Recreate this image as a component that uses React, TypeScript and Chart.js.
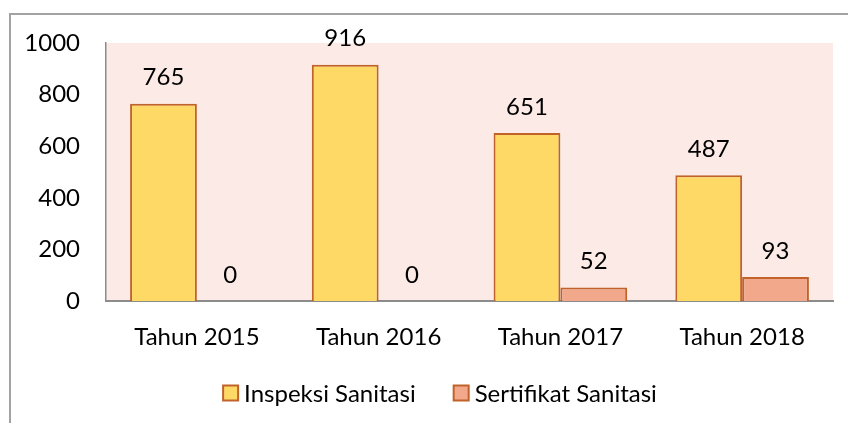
import React, { useEffect, useRef } from "react";
import { Chart, registerables } from "chart.js";

Chart.register(...registerables);

const categories = ["Tahun 2015", "Tahun 2016", "Tahun 2017", "Tahun 2018"];
const inspeksi = [765, 916, 651, 487];
const sertifikat = [0, 0, 52, 93];
const seriesNames = ["Inspeksi Sanitasi", "Sertifikat Sanitasi"];
const yTicks = [0, 200, 400, 600, 800, 1000];

const FONT = "Lato, 'Noto Sans', sans-serif";
const FS = 24;
const BORDER = "#C0622A";
const FILLS = ["#FFD966", "#F2A88B"];

const framePlugin = {
  id: "frame",
  beforeDraw(chart: any) {
    const { ctx, chartArea } = chart;
    ctx.save();
    ctx.fillStyle = "#ffffff";
    ctx.fillRect(0, 0, chart.width, chart.height);
    ctx.fillStyle = "#FBEAE6";
    ctx.fillRect(chartArea.left, chartArea.top, chartArea.right - chartArea.left, chartArea.bottom - chartArea.top);
    ctx.strokeStyle = "#A3A3A3";
    ctx.lineWidth = 2;
    ctx.beginPath();
    ctx.moveTo(10, chart.height);
    ctx.lineTo(10, 14);
    ctx.lineTo(chart.width, 14);
    ctx.stroke();
    ctx.restore();
  },
};

const labelPlugin = {
  id: "valueLabels",
  afterDatasetsDraw(chart: any) {
    const { ctx } = chart;
    ctx.save();
    ctx.font = `${FS}px ${FONT}`;
    ctx.fillStyle = "#000000";
    ctx.textAlign = "center";
    ctx.textBaseline = "middle";
    chart.data.datasets.forEach((ds: any, i: number) => {
      const meta = chart.getDatasetMeta(i);
      meta.data.forEach((el: any, j: number) => {
        ctx.fillText(String(ds.data[j]), el.x, el.y - 26);
      });
    });
    ctx.restore();
  },
};

const legendPlugin = {
  id: "customLegend",
  afterDraw(chart: any) {
    const { ctx } = chart;
    ctx.save();
    ctx.font = `${FS}px ${FONT}`;
    const box = 15;
    const gapText = 6;
    const gapItem = 38;
    const items = chart.data.datasets.map((ds: any) => ({
      text: ds.label,
      fill: ds.backgroundColor,
      w: box + gapText + ctx.measureText(ds.label).width,
    }));
    const total = items.reduce((s: number, it: any) => s + it.w, 0) + gapItem * (items.length - 1);
    let x = 440 - total / 2;
    const cy = 393;
    items.forEach((it: any) => {
      ctx.fillStyle = it.fill;
      ctx.fillRect(x, cy - box / 2, box, box);
      ctx.strokeStyle = BORDER;
      ctx.lineWidth = 2;
      ctx.strokeRect(x, cy - box / 2, box, box);
      ctx.fillStyle = "#000000";
      ctx.textAlign = "left";
      ctx.textBaseline = "middle";
      ctx.fillText(it.text, x + box + gapText, cy + 1);
      x += it.w + gapItem;
    });
    ctx.restore();
  },
};

export default function App() {
  const ref = useRef<HTMLCanvasElement>(null);
  useEffect(() => {
    if (!ref.current) return;
    const chart = new Chart(ref.current, {
      type: "bar",
      data: {
        labels: categories,
        datasets: [
          {
            label: seriesNames[0],
            data: inspeksi,
            backgroundColor: FILLS[0],
            borderColor: BORDER,
            borderWidth: (c: any) => (c.raw === 0 ? 0 : 2),
            categoryPercentage: 0.735,
            barPercentage: 1,
          },
          {
            label: seriesNames[1],
            data: sertifikat,
            backgroundColor: FILLS[1],
            borderColor: BORDER,
            borderWidth: (c: any) => (c.raw === 0 ? 0 : 2),
            categoryPercentage: 0.735,
            barPercentage: 1,
          },
        ],
      },
      options: {
        responsive: false,
        animation: false,
        layout: { padding: { top: 43, right: 15, left: 0, bottom: 73 } },
        plugins: {
          legend: { display: false },
          tooltip: { enabled: false },
        },
        scales: {
          x: {
            grid: { display: false, drawTicks: false },
            border: { display: true, color: "#8C8C8C", width: 2 },
            ticks: { color: "#000", font: { family: FONT, size: FS }, padding: 22 },
            afterFit: (s: any) => {
              s.height = 49;
            },
          },
          y: {
            min: 0,
            max: 1000,
            grid: { display: false, drawTicks: false },
            border: { display: true, color: "#8C8C8C", width: 1.5 },
            afterBuildTicks: (s: any) => {
              s.ticks = yTicks.map((v) => ({ value: v }));
            },
            ticks: {
              color: "#000",
              font: { family: FONT, size: FS },
              padding: 26,
              callback: (v: any) => String(v),
            },
            afterFit: (s: any) => {
              s.width = 106;
            },
          },
        },
      },
      plugins: [framePlugin, labelPlugin, legendPlugin],
    } as any);
    return () => chart.destroy();
  }, []);
  return (
    <canvas
      ref={ref}
      width={848}
      height={423}
      style={{ position: "fixed", left: 0, top: 0, width: 848, height: 423 }}
    />
  );
}
